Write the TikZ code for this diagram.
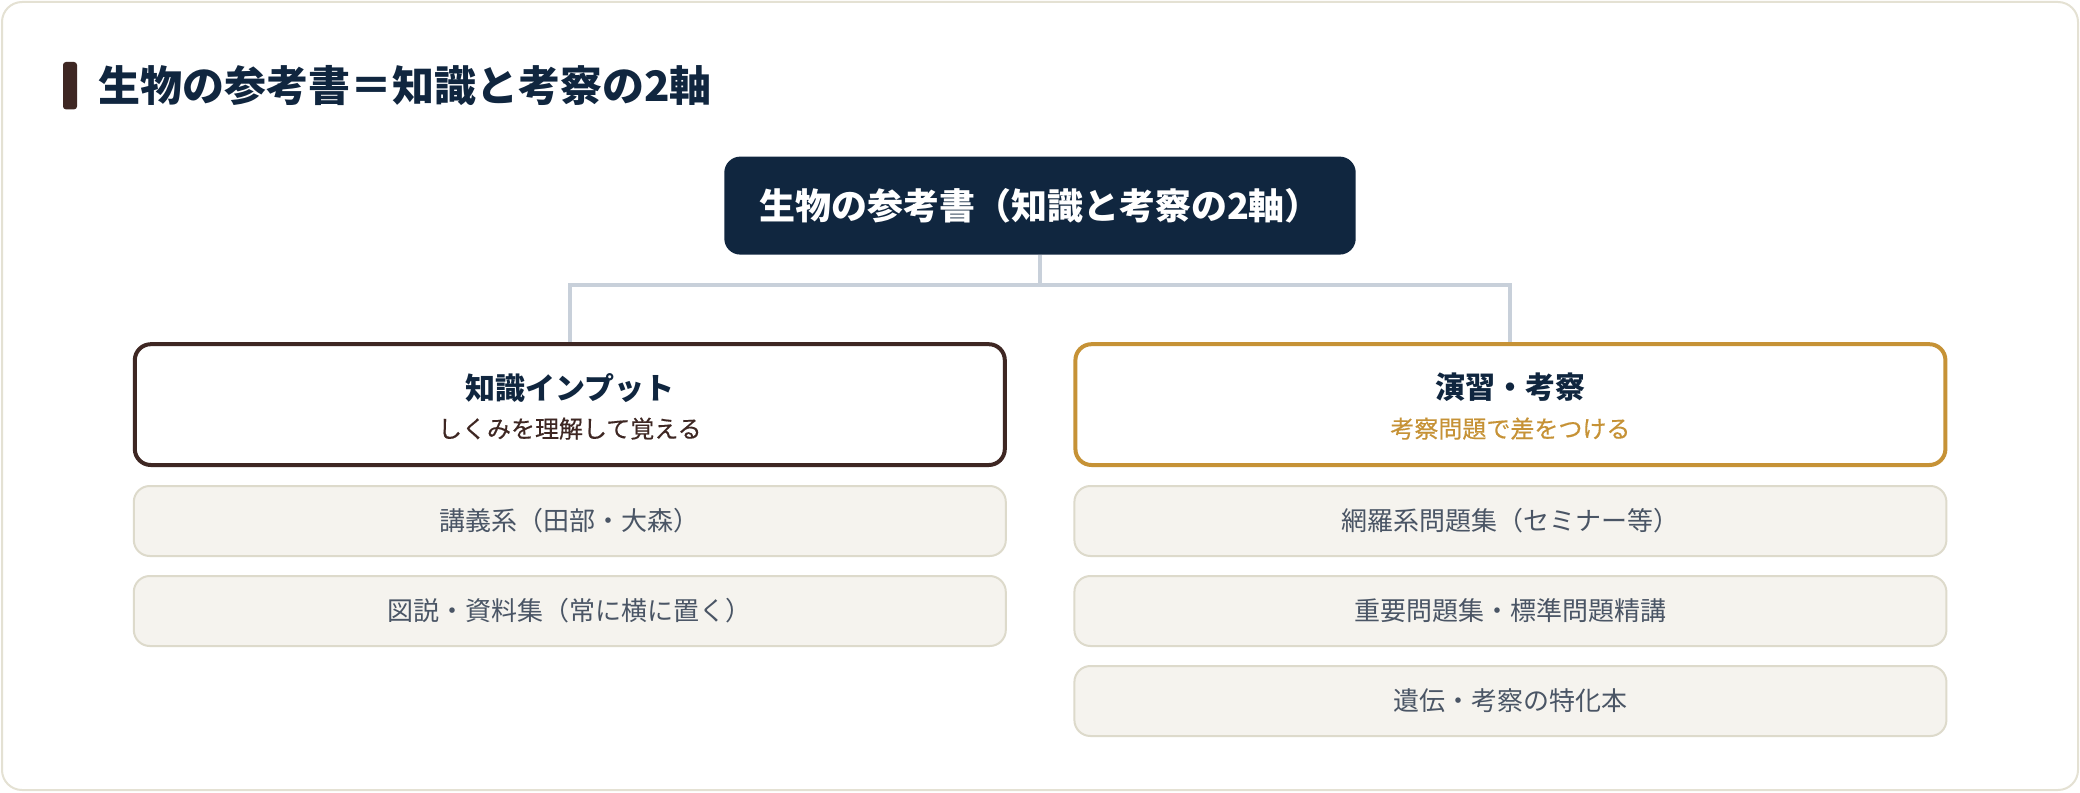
\documentclass[tikz,border=0pt]{standalone}
\usepackage{fontspec}
\setmainfont{Noto Sans CJK JP}
\newfontfamily\medfont[FakeBold=0.35]{Noto Sans CJK JP}
\usetikzlibrary{positioning}
\definecolor{navy}{HTML}{10263F}
\definecolor{bark}{HTML}{3E2723}
\definecolor{ochre}{HTML}{C69236}
\definecolor{slate}{HTML}{4A5565}
\definecolor{paper}{HTML}{F5F3EE}
\definecolor{paperline}{HTML}{DDDACB}
\definecolor{linkgray}{HTML}{C8D0DA}
\definecolor{frameline}{HTML}{E4E1D3}
\begin{document}
\begin{tikzpicture}[x=1pt,y=-1pt,node distance=9pt,
  rootbox/.style={fill=navy,rounded corners=8pt,minimum width=315.7pt,minimum height=49pt,inner sep=0pt,
    text=white,font=\bfseries\fontsize{18}{22}\selectfont},
  headbox/.style={draw=#1,fill=white,line width=2pt,rounded corners=8pt,minimum width=435pt,minimum height=60.4pt,inner sep=0pt},
  itembox/.style={draw=paperline,fill=paper,line width=1pt,rounded corners=8pt,minimum width=436pt,minimum height=35pt,inner sep=0pt,
    text=slate,font=\fontsize{13}{16}\selectfont},
  headtitle/.style={text=navy,font=\bfseries\fontsize{15}{18}\selectfont,inner sep=0pt},
  headsub/.style={text=#1,font=\medfont\fontsize{12}{14}\selectfont,inner sep=0pt},
  link/.style={draw=linkgray,line width=2pt}]
  \useasboundingbox (0,0) rectangle (1040,396);
  \draw [frameline,fill=white,line width=1pt,rounded corners=10pt] (1,1) rectangle (1039,395);
  \fill [bark,rounded corners=1.5pt] (31.5,31) rectangle (38.5,54.7);
  \node [anchor=west,text=navy,font=\bfseries\fontsize{21}{25}\selectfont,inner sep=0pt] (title) at (49,43) {生物の参考書＝知識と考察の2軸};
  \node [rootbox] (root) at (520,102.8) {生物の参考書（知識と考察の2軸）};
  \node [headbox=bark] (know) at (284.9,202.3) {};
  \node [headbox=ochre] (drill) at (755.2,202.3) {};
  \node [headtitle] (know title) at ([yshift=8.5pt]know.center) {知識インプット};
  \node [headsub=bark] (know sub) at ([yshift=-12pt]know.center) {しくみを理解して覚える};
  \node [headtitle] (drill title) at ([yshift=8.5pt]drill.center) {演習・考察};
  \node [headsub=ochre] (drill sub) at ([yshift=-12pt]drill.center) {考察問題で差をつける};
  % branches
  \coordinate (fork) at (520,142.6);
  \draw [link] (root.south) -- (fork);
  \draw [link] (know.north) |- (fork) -| (drill.north);
  % book lists
  \node [itembox,below=of know] (lecture) {講義系（田部・大森）};
  \node [itembox,below=of lecture] (atlas) {図説・資料集（常に横に置く）};
  \node [itembox,below=of drill] (seminar) {網羅系問題集（セミナー等）};
  \node [itembox,below=of seminar] (standard) {重要問題集・標準問題精講};
  \node [itembox,below=of standard] (genetics) {遺伝・考察の特化本};
\end{tikzpicture}
\end{document}
